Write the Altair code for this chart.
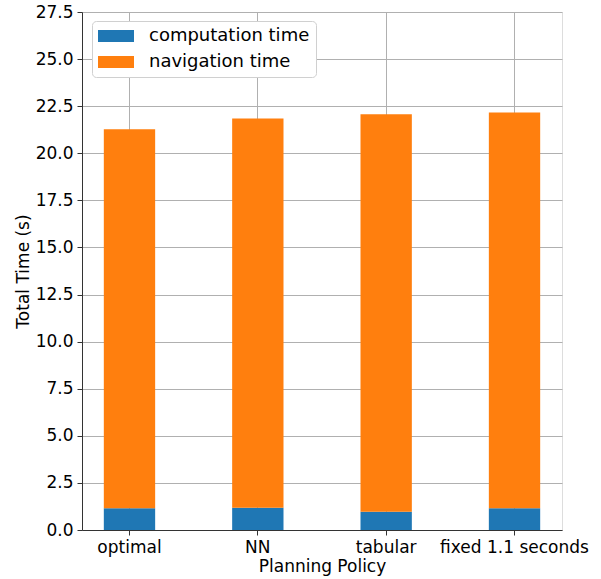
import altair as alt
import pandas as pd

policies = ["optimal", "NN", "tabular", "fixed 1.1 seconds"]
computation_time = [1.15, 1.18, 0.97, 1.15]
navigation_time = [20.12, 20.66, 21.10, 21.02]
series = ["computation time", "navigation time"]
colors = ["#1f77b4", "#ff7f0e"]
y_ticks = [0.0, 2.5, 5.0, 7.5, 10.0, 12.5, 15.0, 17.5, 20.0, 22.5, 25.0, 27.5]

rows = []
for p, c, n in zip(policies, computation_time, navigation_time):
    rows.append({"policy": p, "series": series[0], "value": c, "order": 0})
    rows.append({"policy": p, "series": series[1], "value": n, "order": 1})
df = pd.DataFrame(rows)

FONT = "DejaVu Sans"
common = dict(labelFont=FONT, titleFont=FONT, labelFontSize=17, titleFontSize=17,
              labelColor="black", titleColor="black", titleFontWeight="normal",
              gridColor="#b0b0b0", gridWidth=1, tickColor="#333", tickSize=5,
              labelPadding=4, domainColor="#333", grid=True)

chart = alt.Chart(df).mark_bar(opacity=1).encode(
    x=alt.X("policy:N", sort=policies,
            scale=alt.Scale(paddingInner=0.6, paddingOuter=0.17),
            axis=alt.Axis(title="Planning Policy", labelAngle=0,
                          bandPosition=0.5, titlePadding=3, **common)),
    y=alt.Y("value:Q", stack="zero",
            scale=alt.Scale(domain=[0, 27.5], nice=False),
            axis=alt.Axis(title="Total Time (s)", values=y_ticks, format=".1f",
                          titlePadding=3, **common)),
    color=alt.Color("series:N", scale=alt.Scale(domain=series, range=colors),
                    legend=alt.Legend(title=None, orient="none",
                                      legendX=10, legendY=9,
                                      fillColor="white", strokeColor="#d0d0d0",
                                      cornerRadius=4, padding=6,
                                      symbolType="M-1,-0.68L3,-0.68L3,0.68L-1,0.68Z",
                                      symbolSize=324, symbolStrokeWidth=0,
                                      symbolOpacity=1,
                                      labelFontSize=18, labelFont=FONT,
                                      labelColor="black", rowPadding=8,
                                      labelOffset=33, labelLimit=400)),
    order=alt.Order("order:Q", sort="ascending"),
).properties(
    width=480, height=518,
    autosize=alt.AutoSizeParams(type="none"),
    padding={"left": 82, "top": 12, "right": 39, "bottom": 49},
).configure_view(
    stroke="#333", strokeWidth=1,
).configure(background="white")

chart.save("out.html", embed_options={"renderer": "svg", "actions": False})
